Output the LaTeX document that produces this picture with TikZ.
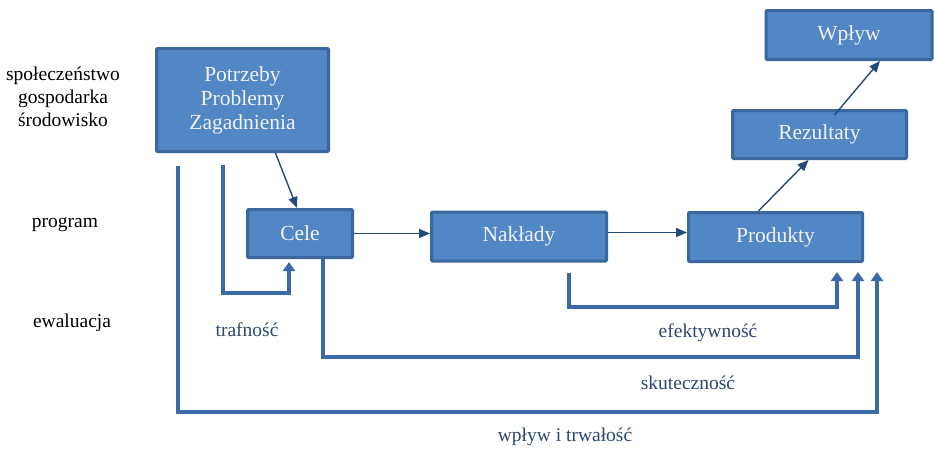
\documentclass[tikz,border=0pt]{standalone}
\usepackage{fontspec}
\setmainfont{Liberation Serif}
\usetikzlibrary{arrows.meta}
\definecolor{boxfill}{HTML}{5187C4}
\definecolor{boxedge}{HTML}{3A679E}
\definecolor{fbline}{HTML}{3A6BA6}
\definecolor{thinarrow}{HTML}{23497A}
\definecolor{lbl}{HTML}{2E4770}
\tikzset{
  box/.style={draw=boxedge, fill=boxfill, line width=3pt, text=white!95!black,
    font=\fontsize{21.5}{24}\selectfont, align=center, inner sep=0pt, rounded corners=1pt},
  flow/.style={draw=thinarrow, line width=1.4pt, -{Triangle[length=11pt,width=9pt]}},
  fb/.style={draw=fbline, line width=3.5pt, -{Triangle[length=9pt,width=12pt]}},
  sidelbl/.style={font=\fontsize{19.5}{23}\selectfont, align=center, text=black},
  evlbl/.style={font=\fontsize{19.5}{23}\selectfont, text=lbl}
}
\begin{document}
\begin{tikzpicture}[x=1pt,y=-1pt]
\useasboundingbox (0,0) rectangle (935,448);

% boxes
\node[box, minimum width=172pt, minimum height=103pt] (potrz) at (242.5,100) {Potrzeby\\Problemy\\Zagadnienia};
\node[box, minimum width=105pt, minimum height=48pt] (cele) at (300,233.5) {Cele};
\node[box, minimum width=175pt, minimum height=49pt] (nakl) at (519,236.5) {Nakłady};
\node[box, minimum width=174pt, minimum height=49pt] (prod) at (775.5,237) {Produkty};
\node[box, minimum width=174pt, minimum height=48pt] (rez) at (819.5,134.5) {Rezultaty};
\node[box, minimum width=166pt, minimum height=49pt] (wpl) at (849,35) {Wpływ};

% side labels
\node[sidelbl] (spol) at (63,97) {społeczeństwo\\gospodarka\\środowisko};
\node[sidelbl] (prog) at (65,225) {program};
\node[sidelbl] (ewal) at (72,323) {ewaluacja};

% main flow
\draw[flow] ([xshift=33pt]potrz.south) -- ([xshift=-3pt]cele.north);
\draw[flow] (cele.east) -- (cele.east -| nakl.west);
\draw[flow] ([yshift=4pt]nakl.east) -- ([yshift=4pt]nakl.east -| prod.west);
\draw[flow] ([xshift=-17pt]prod.north) -- ([xshift=-11pt]rez.south);
\draw[flow] ([xshift=15pt,yshift=-6pt]rez.north) -- ([xshift=31pt]wpl.south);

% evaluation loops
\coordinate (t0) at (223,165);
\coordinate (w0) at (178,166);
\draw[fb] (t0) -- (223,293) -| ([xshift=-11pt,yshift=-3pt]cele.south);
\draw[fb] ([yshift=-10pt,xshift=50pt]nakl.south) -- (569,307) -| ([xshift=61.5pt,yshift=-9pt]prod.south);
\draw[fb] ([xshift=23pt]cele.south) -- (323,357) -| ([xshift=82.5pt,yshift=-9pt]prod.south);
\draw[fb] (w0) -- (178,412) -| ([xshift=101.5pt,yshift=-9pt]prod.south);

% evaluation criteria
\node[evlbl] (traf) at (247,330) {trafność};
\node[evlbl] (efek) at (708,333) {efektywność};
\node[evlbl] (skut) at (688,383) {skuteczność};
\node[evlbl] (trwa) at (565,437) {wpływ i trwałość};
\end{tikzpicture}
\end{document}
